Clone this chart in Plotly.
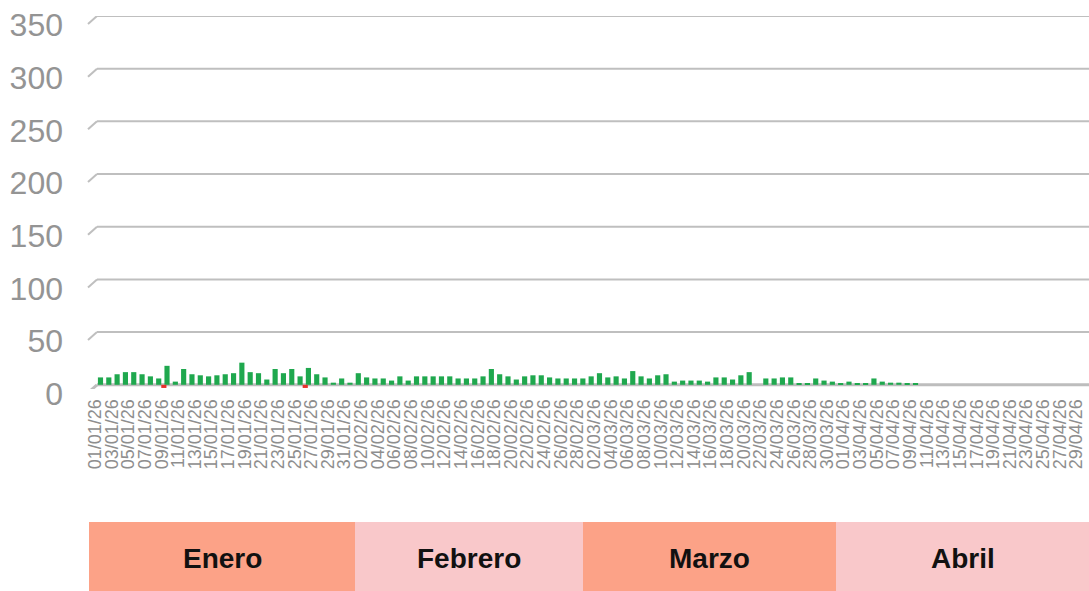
import pandas as pd
import plotly.graph_objects as go

# ---------------- data ----------------
dates = pd.date_range("2026-01-01", "2026-04-30", freq="D")
categories = [d.strftime("%d/%m/%y") for d in dates]

green_values = [
    # Enero
    7, 7, 10, 12, 12, 10, 8, 6, 18, 3, 15, 10, 9, 8, 9, 10, 11, 21, 12, 11,
    5, 15, 11, 15, 8, 16, 10, 7, 2, 6, 2,
    # Febrero
    11, 7, 6, 6, 4, 8, 4, 8, 8, 8, 8, 8, 6, 6, 6, 8, 15, 10, 8, 5,
    8, 9, 9, 7, 6, 6, 6, 6,
    # Marzo
    8, 11, 7, 8, 6, 13, 8, 6, 9, 10, 3, 4, 4, 4, 3, 7, 7, 5, 9, 12,
    0, 6, 6, 7, 7, 1, 1, 6, 4, 3, 1,
    # Abril (hasta el 9)
    3, 1, 1, 6, 3, 2, 2, 1, 1,
]
red_values = {"09/01/26": -3, "26/01/26": -3}

y_ticks = [0, 50, 100, 150, 200, 250, 300, 350]
tick_labels = categories[::2]

months = ["Enero", "Febrero", "Marzo", "Abril"]
month_colors = ["#FCA287", "#F9C8CA", "#FCA287", "#F9C8CA"]

# ---------------- figure ----------------
W, H = 1089, 591
Y_MIN, Y_MAX = -4, 350
L, R, T, B = 91, 0, 16, 202
PW = W - L - R
PH = H - T - B

def px_to_paper_x(px):
    return (px - L) / PW

def px_to_paper_y(py):
    return (H - B - py) / PH

green_y = green_values + [None] * (len(categories) - len(green_values))
red_y = [red_values.get(c) for c in categories]

fig = go.Figure()
fig.add_trace(go.Bar(
    x=categories, y=green_y, marker=dict(color="#1FA84E", line=dict(width=0)),
    width=0.62, offset=0.33, name="verde", showlegend=False,
))
fig.add_trace(go.Bar(
    x=categories, y=red_y, marker=dict(color="#E8302C", line=dict(width=0)),
    width=0.62, offset=-0.05, name="rojo", showlegend=False,
))

units_per_px = (Y_MAX - Y_MIN) / PH
shapes = []
for v in y_ticks:
    lw = 3 if v == 0 else 2
    col = "#BDBDBD" if v == 0 else "#BFBFBF"
    shapes.append(dict(type="line", xref="paper", yref="y",
                       x0=px_to_paper_x(97), x1=1.0, y0=v, y1=v,
                       line=dict(color=col, width=lw), layer="below"))
    shapes.append(dict(type="line", xref="paper", yref="y",
                       x0=px_to_paper_x(88), x1=px_to_paper_x(97),
                       y0=v - 8 * units_per_px, y1=v,
                       line=dict(color=col, width=lw), layer="below"))

band_edges_px = [89, 355, 583, 836, 1089]
annotations = []
for i, m in enumerate(months):
    x0 = px_to_paper_x(band_edges_px[i])
    x1 = px_to_paper_x(band_edges_px[i + 1])
    shapes.append(dict(type="rect", xref="paper", yref="paper",
                       x0=x0, x1=x1, y0=px_to_paper_y(591), y1=px_to_paper_y(522),
                       fillcolor=month_colors[i], line=dict(width=0), layer="below"))
    annotations.append(dict(xref="paper", yref="paper", x=(x0 + x1) / 2,
                            y=px_to_paper_y(558), text=f"<b>{m}</b>", showarrow=False,
                            font=dict(family="Liberation Sans, Arial", size=28, color="#111111"),
                            xanchor="center", yanchor="middle"))

fig.update_layout(
    width=W, height=H,
    margin=dict(l=L, r=R, t=T, b=B, pad=0, autoexpand=False),
    paper_bgcolor="white", plot_bgcolor="white",
    barmode="overlay", bargap=0.4,
    shapes=shapes, annotations=annotations,
    showlegend=False,
    xaxis=dict(
        type="category", categoryorder="array", categoryarray=categories,
        range=[-0.5, len(categories) - 0.5], automargin=False,
        tickmode="array", tickvals=tick_labels, ticktext=tick_labels,
        tickangle=-90, ticks="outside", ticklen=2, tickcolor="rgba(0,0,0,0)",
        tickfont=dict(family="Liberation Sans, Arial", size=18, color="#8E8E8E"),
        showgrid=False, showline=False, zeroline=False,
    ),
    yaxis=dict(
        range=[Y_MIN, Y_MAX], tickvals=y_ticks, automargin=False,
        tickfont=dict(family="Liberation Sans, Arial", size=32, color="#949494"),
        showgrid=False, zeroline=False, showline=False,
        ticks="", ticklabelstandoff=27, ticklabelshift=9,
    ),
)

fig.write_html(
    "out.html",
    config={"displayModeBar": False},
    post_script="document.body.style.margin='0';document.body.style.overflow='hidden';",
)
